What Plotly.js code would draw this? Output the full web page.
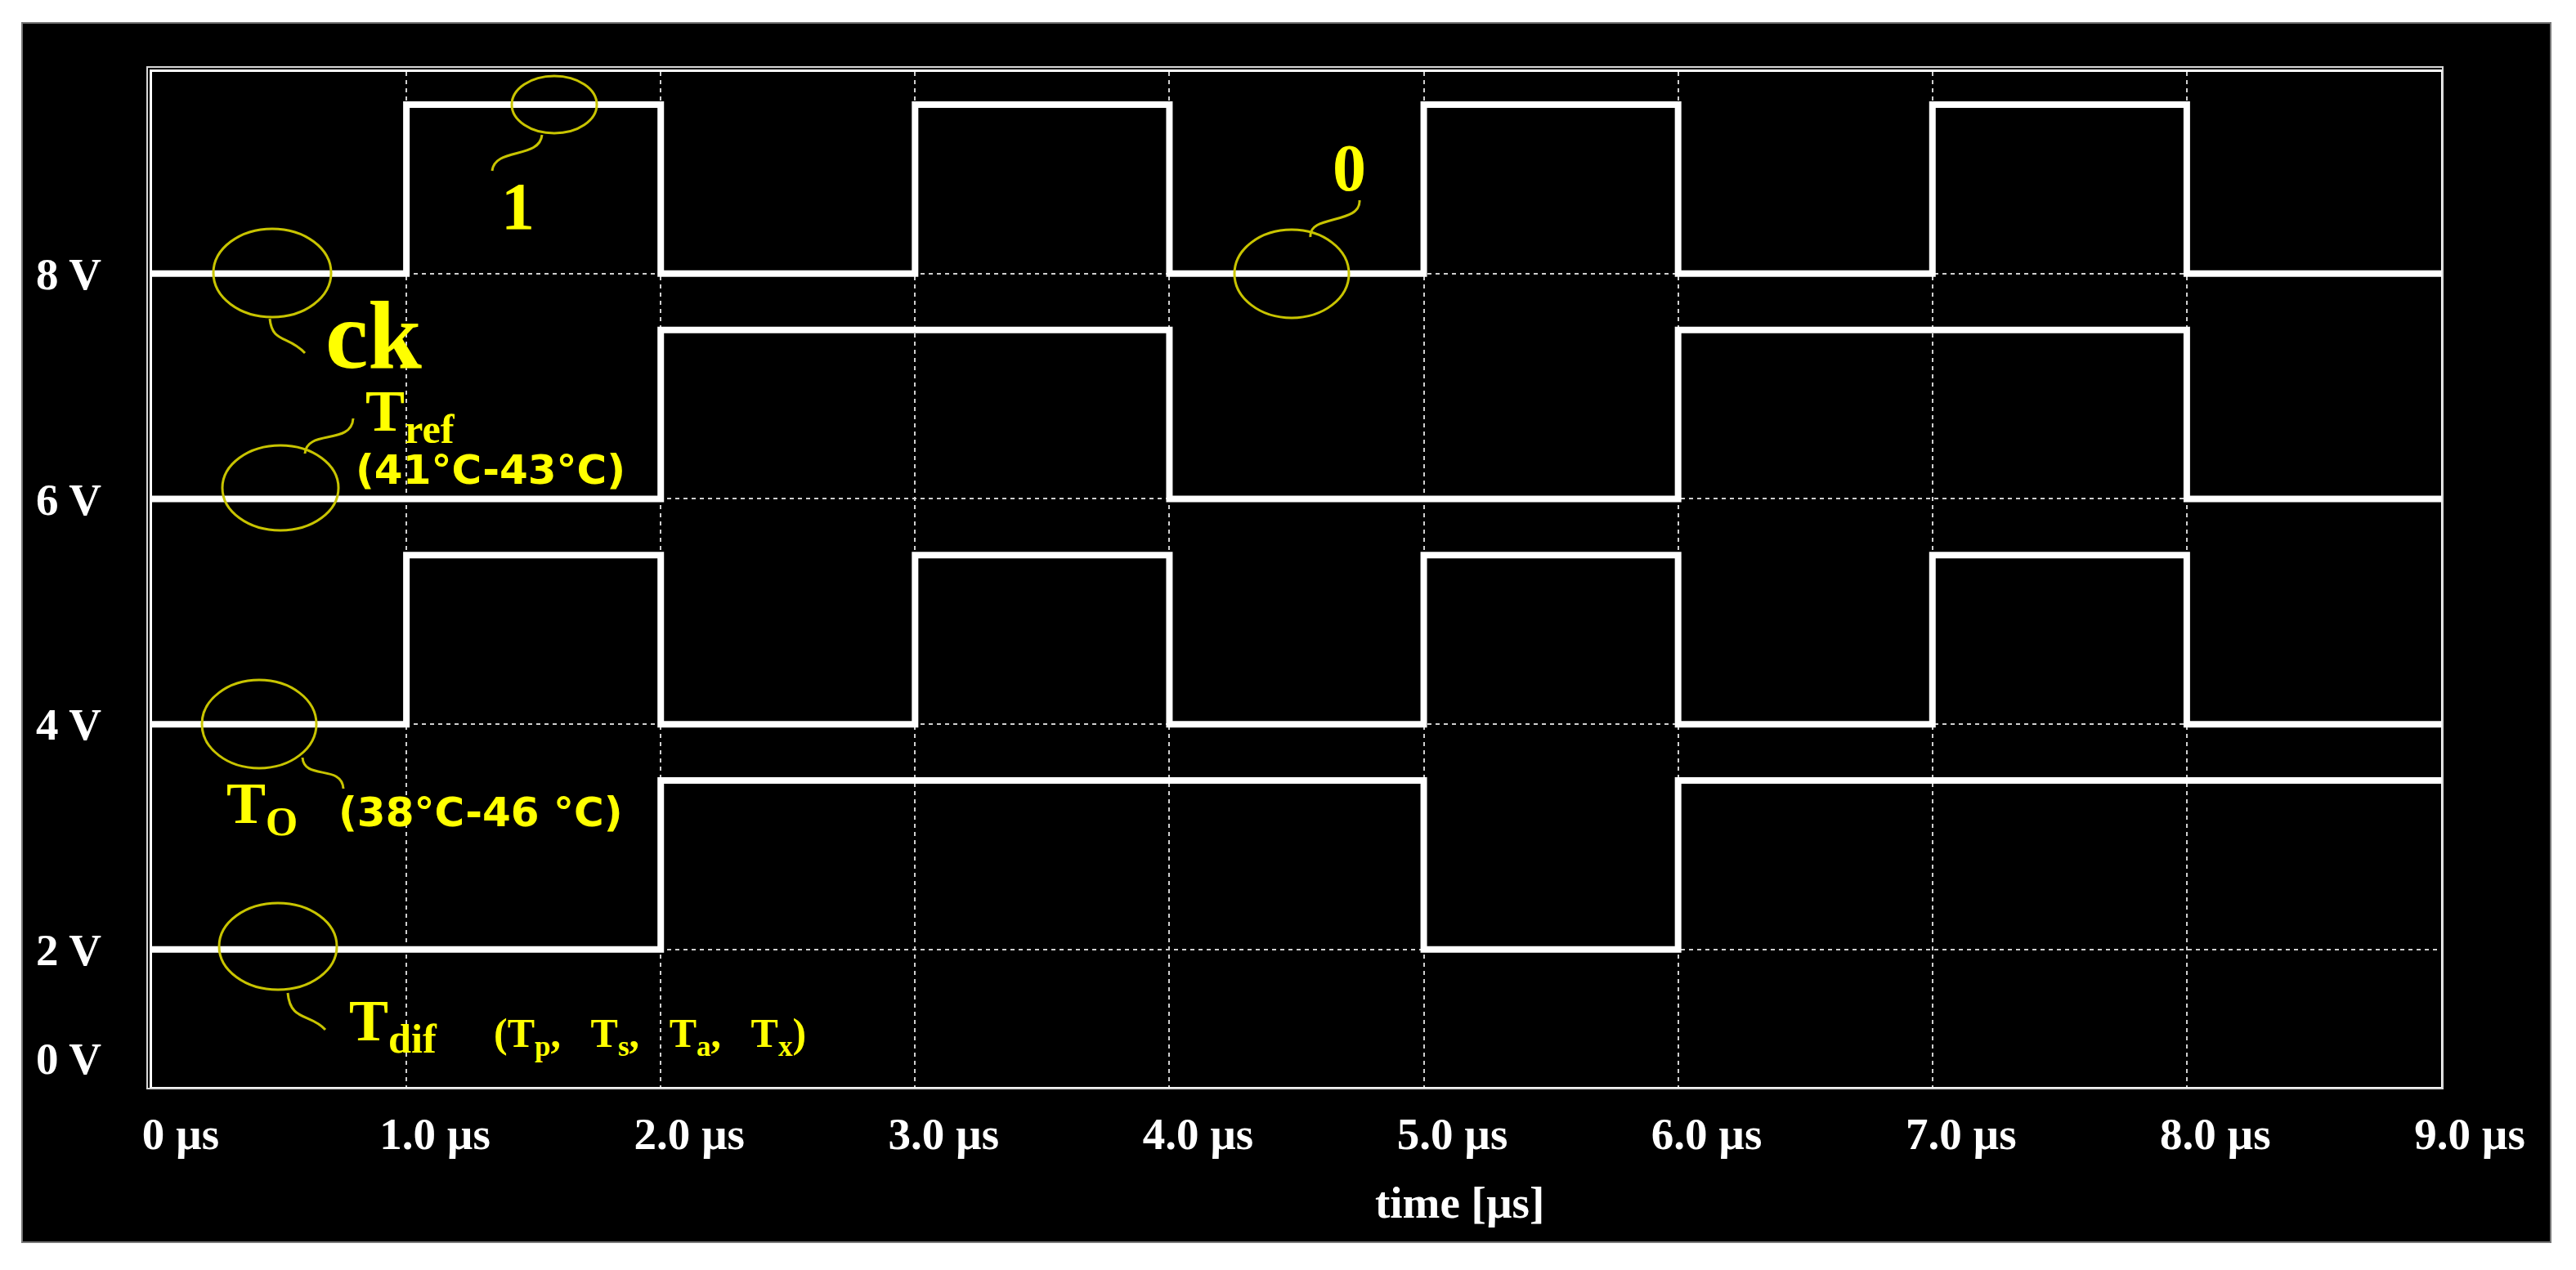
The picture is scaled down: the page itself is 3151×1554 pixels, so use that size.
<!DOCTYPE html>
<html>
<head>
<meta charset="utf-8">
<script src="https://cdn.plot.ly/plotly-3.0.1.min.js"></script>
<style>
  html, body { margin: 0; padding: 0; background: #fff; }
  #chart { width: 3151px; height: 1554px; }
</style>
</head>
<body>
<div id="chart"></div>
<script>
// time axis (µs) and the signal levels (V) held from each instant to the next
const timeUs = [0, 1, 2, 3, 4, 5, 6, 7, 8, 9];
const ckV   = [8, 9.5, 8, 9.5, 8, 9.5, 8, 9.5, 8, 8];
const trefV = [6, 6, 7.5, 7.5, 6, 6, 7.5, 7.5, 6, 6];
const toV   = [4, 5.5, 4, 5.5, 4, 5.5, 4, 5.5, 4, 4];
const tdifV = [2, 2, 3.5, 3.5, 3.5, 2, 3.5, 3.5, 3.5, 3.5];

const xTickText = ['0 µs', '1.0 µs', '2.0 µs', '3.0 µs', '4.0 µs', '5.0 µs', '6.0 µs', '7.0 µs', '8.0 µs', '9.0 µs'];
const yTickVals = [2, 4, 6, 8];
const yTickText = ['2 V', '4 V', '6 V', '8 V'];

// plot box in page pixels
const L = 186, R = 2986, T = 88, B = 1330;
const px = x => (x - L) / (R - L);
const py = y => (B - y) / (B - T);

const SERIF = 'Liberation Serif, Times New Roman, serif';
const SANS = 'DejaVu Sans, Verdana, sans-serif';
const YEL = '#ffff00';
const RING = '#c8c400';

function step(y) {
    return {
        x: timeUs, y: y, type: 'scatter', mode: 'lines',
        line: { color: '#ffffff', width: 8, shape: 'hv' },
        hoverinfo: 'skip', showlegend: false
    };
}

function ring(cx, cy, rx, ry) {
    return {
        type: 'circle', xref: 'paper', yref: 'paper',
        x0: px(cx - rx), x1: px(cx + rx), y0: py(cy + ry), y1: py(cy - ry),
        line: { color: RING, width: 3 }
    };
}

function squiggle(p) {
    const pt = i => px(p[i][0]) + ',' + py(p[i][1]);
    return {
        type: 'path', xref: 'paper', yref: 'paper',
        path: 'M' + pt(0) + ' C' + pt(1) + ' ' + pt(2) + ' ' + pt(3),
        line: { color: RING, width: 3 }
    };
}

function label(text, x, y, size, family, anchor) {
    return {
        text: text, xref: 'paper', yref: 'paper', x: px(x), y: py(y),
        xanchor: anchor || 'left', yanchor: 'middle', showarrow: false,
        font: { family: family, size: size, color: YEL, weight: 'bold' }
    };
}

const shapes = [
    // black panel
    { type: 'rect', xref: 'paper', yref: 'paper', layer: 'below',
      x0: px(27), x1: px(3120), y0: py(1520), y1: py(28),
      fillcolor: '#000', line: { color: '#777', width: 2 } },
    // outer frame line
    { type: 'rect', xref: 'paper', yref: 'paper',
      x0: px(L - 6), x1: px(R + 2), y0: py(B + 2), y1: py(T - 6),
      line: { color: '#d8d8d8', width: 2 } },
    ring(333, 334, 72, 54),
    ring(678, 128, 52, 35),
    ring(1580, 335, 70, 54),
    ring(343, 597, 71, 52),
    ring(317, 886, 70, 54),
    ring(340, 1158, 72, 53),
    squiggle([[330, 390], [333, 420], [352, 410], [373, 432]]),
    squiggle([[663, 165], [660, 195], [605, 180], [602, 209]]),
    squiggle([[1603, 290], [1600, 262], [1665, 275], [1663, 245]]),
    squiggle([[373, 555], [375, 525], [430, 545], [432, 512]]),
    squiggle([[370, 927], [372, 955], [418, 935], [420, 965]]),
    squiggle([[352, 1215], [355, 1250], [380, 1240], [398, 1260]])
];

const annotations = [
    label('ck', 396, 410, 118, SERIF),
    label('1', 633, 252, 82, SERIF, 'center'),
    label('0', 1650, 206, 82, SERIF, 'center'),
    label('T<sub>ref</sub>', 445, 508, 72, SERIF),
    label('(41°C-43°C)', 433, 575, 50, SANS),
    label('T<sub>O</sub>', 275, 988, 72, SERIF),
    label('(38°C-46 °C)', 412, 994, 50, SANS),
    label('T<sub>dif</sub>', 425, 1254, 72, SERIF),
    label('(T<sub>p</sub>,&nbsp;&nbsp; T<sub>s</sub>,&nbsp;&nbsp; T<sub>a</sub>,&nbsp;&nbsp; T<sub>x</sub>)', 602, 1268, 50, SERIF),
    // bottom voltage label sits below the lowest grid line
    { text: '0 V', xref: 'paper', yref: 'y', x: px(126), y: 1.03, xanchor: 'right', yanchor: 'middle',
      showarrow: false, font: { family: SERIF, size: 55, color: '#fff', weight: 'bold' } },
    // axis title
    { text: 'time [µs]', xref: 'paper', yref: 'paper', x: px(1785), y: py(1471), xanchor: 'center', yanchor: 'middle',
      showarrow: false, font: { family: SERIF, size: 55, color: '#fff', weight: 'bold' } }
];

const layout = {
    width: 3151, height: 1554,
    margin: { l: L, r: 3151 - R, t: T, b: 1554 - B },
    paper_bgcolor: '#ffffff',
    plot_bgcolor: '#000000',
    showlegend: false,
    xaxis: {
        range: [0, 9], tickvals: timeUs, ticktext: xTickText,
        showgrid: true, gridcolor: '#cfcfcf', gridwidth: 2, griddash: '5px,5px',
        zeroline: false, showline: true, mirror: true, linecolor: '#ffffff', linewidth: 3,
        ticks: '', ticklabelstandoff: 7, ticklabelshift: 35,
        tickfont: { family: SERIF, size: 55, color: '#ffffff', weight: 'bold' }
    },
    yaxis: {
        range: [0.78, 9.79], tickvals: yTickVals, ticktext: yTickText,
        showgrid: true, gridcolor: '#cfcfcf', gridwidth: 2, griddash: '5px,5px',
        zeroline: false, showline: true, mirror: true, linecolor: '#ffffff', linewidth: 3,
        ticks: '', ticklabelstandoff: 48,
        tickfont: { family: SERIF, size: 55, color: '#ffffff', weight: 'bold' }
    },
    shapes: shapes,
    annotations: annotations
};

Plotly.newPlot('chart', [step(ckV), step(trefV), step(toV), step(tdifV)], layout, { displayModeBar: false, staticPlot: true });
</script>
</body>
</html>
